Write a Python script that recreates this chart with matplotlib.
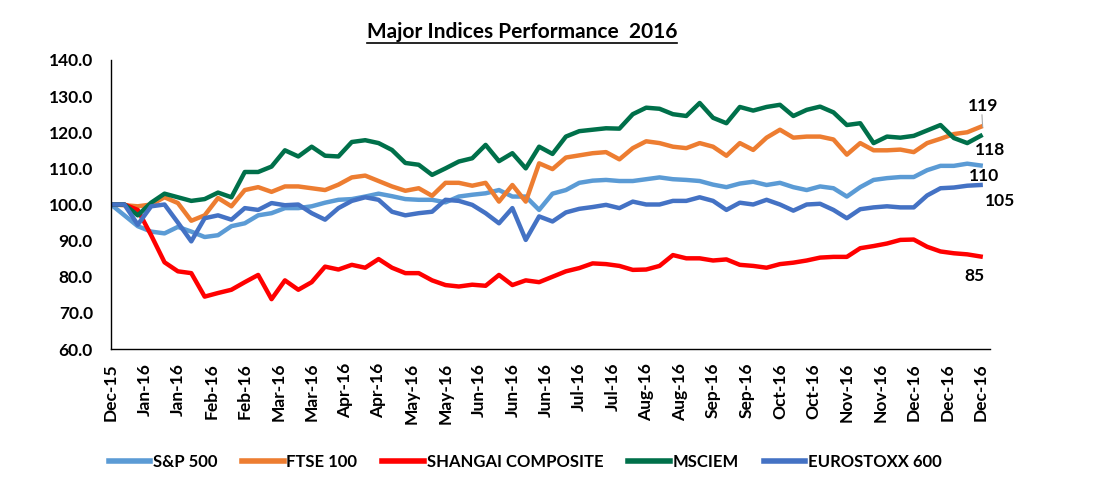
import matplotlib
matplotlib.use("Agg")
import matplotlib.pyplot as plt
import numpy as np
from matplotlib.lines import Line2D

plt.rcParams['font.family'] = ['Lato', 'DejaVu Sans']

# trading-day positions (categorical index), sampled every 4 days
day = list(range(0, 261, 4))

tick_labels = ["Dec-15", "Jan-16", "Jan-16", "Feb-16", "Feb-16", "Mar-16", "Mar-16",
               "Apr-16", "Apr-16", "May-16", "May-16", "Jun-16", "Jun-16", "Jun-16",
               "Jul-16", "Jul-16", "Aug-16", "Aug-16", "Sep-16", "Sep-16", "Oct-16",
               "Oct-16", "Nov-16", "Nov-16", "Dec-16", "Dec-16", "Dec-16"]

sp500 = [100, 97, 94, 92.5, 92, 93.8, 92.5, 91, 91.5, 94, 94.8, 97, 97.6, 99, 99, 99.5,
         100.5, 101.3, 101.5, 102.2, 103, 102.3, 101.5, 101.3, 101.3, 100.6, 102.2, 102.7,
         103.1, 104, 102.2, 102.2, 98.5, 103, 104, 106, 106.6, 106.8, 106.5, 106.5, 107,
         107.5, 107, 106.8, 106.5, 105.5, 104.8, 105.8, 106.3, 105.4, 106, 104.8, 104, 105,
         104.5, 102.2, 104.8, 106.8, 107.3, 107.6, 107.6, 109.5, 110.7, 110.7, 111.3, 110.8]

ftse100 = [100, 99.8, 99.5, 100, 102, 100.4, 95.5, 97, 101.8, 99.5, 104, 104.8, 103.5, 105,
           105, 104.5, 104, 105.5, 107.5, 108, 106.5, 105, 103.8, 104.5, 102.4, 106, 106,
           105.2, 106, 100.8, 105.4, 100.8, 111.4, 109.8, 113, 113.6, 114.2, 114.5, 112.5,
           115.6, 117.5, 117, 116, 115.6, 117, 116, 113.5, 117, 115.1, 118.5, 120.7, 118.5,
           118.8, 118.8, 118, 113.8, 117, 115, 115, 115.2, 114.5, 117, 118.2, 119.5, 120, 121.5]

shanghai = [100, 100, 98.5, 91.5, 84, 81.5, 81, 74.5, 75.5, 76.4, 78.5, 80.5, 73.8, 79, 76.4,
            78.5, 82.8, 82, 83.3, 82.5, 84.9, 82.5, 81, 81, 79, 77.7, 77.3, 77.8, 77.5, 80.5,
            77.7, 79, 78.5, 80, 81.5, 82.4, 83.7, 83.5, 83, 81.9, 82, 83, 86, 85.1, 85.1, 84.5,
            84.8, 83.3, 83, 82.5, 83.5, 83.9, 84.5, 85.3, 85.5, 85.5, 87.9, 88.5, 89.2, 90.2,
            90.3, 88.3, 87, 86.5, 86.2, 85.6]

msciem = [100, 100, 97, 100.5, 103, 102, 101, 101.5, 103.3, 102, 109, 109, 110.5, 115,
          113.3, 116, 113.5, 113.3, 117.3, 117.8, 117, 115.1, 111.5, 111, 108.2, 110, 111.9,
          112.8, 116.5, 112, 114.2, 110, 116, 114, 118.8, 120.3, 120.7, 121.1, 121, 125,
          126.8, 126.5, 125, 124.5, 128.1, 124, 122.5, 127, 126, 127, 127.6, 124.5, 126.2,
          127.1, 125.5, 122, 122.5, 117, 118.8, 118.5, 119, 120.5, 122, 118.4, 117, 119]

eurostoxx = [100, 100, 94.4, 99.5, 100, 95, 89.8, 96.2, 97, 95.8, 99, 98.5, 100.4, 99.8, 100,
             97.6, 95.8, 99, 101, 102, 101.3, 98, 97, 97.6, 98, 101.3, 101, 99.9, 97.6, 94.8,
             99, 90.2, 96.7, 95.3, 97.8, 98.8, 99.3, 99.9, 99, 100.8, 100, 100, 101, 101, 102,
             101, 98.5, 100.5, 100, 101.3, 100, 98.3, 100, 100.2, 98.5, 96.2, 98.7, 99.2, 99.5,
             99.2, 99.2, 102.5, 104.5, 104.7, 105.2, 105.4]

series_names = ["S&P 500", "FTSE 100", "SHANGAI COMPOSITE", "MSCIEM", "EUROSTOXX 600"]
series_vals = [sp500, ftse100, shanghai, msciem, eurostoxx]
colors = ["#5B9BD5", "#ED7D31", "#FF0000", "#00704A", "#4472C4"]

end_labels = ["119", "118", "110", "105", "85"]
end_label_pos = [(260.7, 127.3), (262.8, 115.1), (261.0, 107.9), (265.8, 101.0), (258.0, 80.2)]

fig = plt.figure(figsize=(11.04, 4.78), dpi=100)
ax = fig.add_axes([111/1104, 1 - 349/478, (990-111)/1104, (349-60)/478])

for name, vals, c in zip(series_names, series_vals, colors):
    ax.plot(day, vals, color=c, lw=3.2, label=name, solid_joinstyle='round')

ax.set_ylim(60, 140)
ax.set_xlim(0, 262.8)
ax.set_yticks(np.arange(60, 141, 10))
ax.set_yticklabels([f"{v:.1f}" for v in np.arange(60, 141, 10)])
ax.set_xticks(np.arange(0, 261, 10))
ax.set_xticklabels(tick_labels, rotation=90)
ax.tick_params(axis='both', length=0, labelsize=12.5)
ax.tick_params(axis='y', pad=13)
ax.tick_params(axis='x', pad=10)
for lab in ax.get_xticklabels() + ax.get_yticklabels():
    lab.set_fontweight('bold')
for s in ['top', 'right']:
    ax.spines[s].set_visible(False)
for s in ['left', 'bottom']:
    ax.spines[s].set_color('black')
    ax.spines[s].set_linewidth(1.0)

for txt, (xx, yy) in zip(end_labels, end_label_pos):
    ax.text(xx, yy, txt, ha='center', va='center', fontsize=12.5, fontweight='bold',
            clip_on=False)
ax.plot([260.6, 260.4], [121.5, 124.8], color='#A6A6A6', lw=0.8, clip_on=False)

leg = fig.legend(loc='center', bbox_to_anchor=(525/1104, 16/478), ncol=5, frameon=False,
                 prop={'weight': 'bold', 'size': 12}, handlelength=2.5,
                 columnspacing=1.5, handletextpad=0.15)
for h in leg.get_lines():
    h.set_linewidth(4)

title = fig.text(522/1104, 1 - 32/478, "Major Indices Performance  2016", ha='center',
                 va='center', fontsize=15, fontweight='bold')
fig.canvas.draw()
bb = title.get_window_extent(renderer=fig.canvas.get_renderer())
inv = fig.transFigure.inverted()
(x0, y0), (x1, y1) = inv.transform([[bb.x0, bb.y0], [bb.x1, bb.y1]])
fig.add_artist(Line2D([x0, x1], [y0 - 0.002, y0 - 0.002], color='black', lw=1.2,
                      transform=fig.transFigure))

fig.savefig("out.png", dpi=100)
